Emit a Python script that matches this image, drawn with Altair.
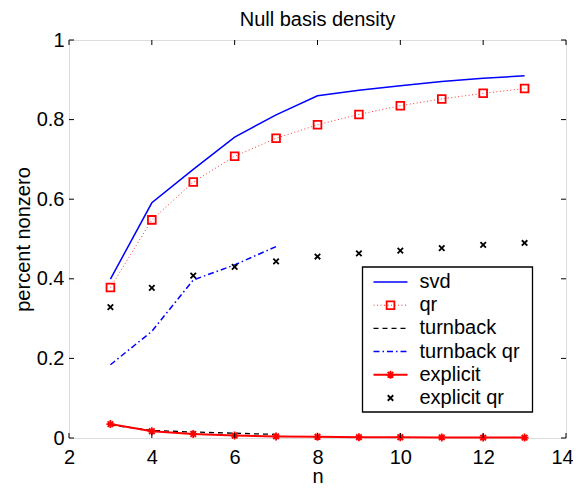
import altair as alt
import pandas as pd

# ---------------- data ----------------
n = [3, 4, 5, 6, 7, 8, 9, 10, 11, 12, 13]
svd = [0.399, 0.591, 0.675, 0.756, 0.812, 0.860, 0.874, 0.885, 0.896, 0.904, 0.910]
qr = [0.378, 0.548, 0.643, 0.708, 0.753, 0.787, 0.813, 0.835, 0.852, 0.866, 0.878]
n_short = [3, 4, 5, 6, 7]
turnback = [0.033, 0.019, 0.015, 0.012, 0.009]
turnback_qr = [0.184, 0.268, 0.397, 0.435, 0.481]
explicit = [0.035, 0.017, 0.010, 0.006, 0.004, 0.003, 0.002, 0.002, 0.0015, 0.001, 0.001]
explicit_qr = [0.329, 0.377, 0.408, 0.430, 0.444, 0.456, 0.464, 0.471, 0.477, 0.485, 0.490]

x_ticks = [2, 4, 6, 8, 10, 12, 14]
y_ticks = [0, 0.2, 0.4, 0.6, 0.8, 1]

legend_labels = ["svd", "qr", "turnback", "turnback qr", "explicit", "explicit qr"]
title_text = ["Null basis density"]

# ---------------- layout ----------------
W, H = 497, 398
FONT = "Liberation Sans"
FS = 20
BLUE = "#0000ff"
RED = "#ff0000"
BLACK = "#000000"

ASTERISK = "M-1,0L1,0M0,-1L0,1M-0.7,-0.7L0.7,0.7M-0.7,0.7L0.7,-0.7"
XMARK = "M-1,-1L1,1M-1,1L1,-1"

xs = alt.Scale(domain=[2, 14], nice=False, zero=False)
ys = alt.Scale(domain=[0, 1], nice=False)

xaxis = alt.Axis(values=x_ticks, ticks=False, grid=False, domain=False,
                 labelFont=FONT, labelFontSize=FS, labelColor=BLACK, labelPadding=9,
                 labelOffset={"condition": {"test": "datum.value == 14", "value": -4}, "value": 0},
                 titleFont=FONT, titleFontSize=FS, titleFontWeight="normal", titleColor=BLACK,
                 titlePadding=-1, labelFlush=False, labelOverlap=False)
yaxis = alt.Axis(values=y_ticks, ticks=False, grid=False, domain=False, format="~g",
                 labelFont=FONT, labelFontSize=FS, labelColor=BLACK, labelPadding=5,
                 titleFont=FONT, titleFontSize=FS, titleFontWeight="normal", titleColor=BLACK,
                 titlePadding=3, labelFlush=False, labelOverlap=False)


def X(field="n"):
    return alt.X(f"{field}:Q", scale=xs, axis=xaxis, title="n")


def Y(field="v"):
    return alt.Y(f"{field}:Q", scale=ys, axis=yaxis, title="percent nonzero")


def df(xv, yv):
    return pd.DataFrame({"n": xv, "v": yv})


layers = []

# svd
layers.append(alt.Chart(df(n, svd)).mark_line(color=BLUE, strokeWidth=1.5).encode(x=X(), y=Y()))
# qr
layers.append(alt.Chart(df(n, qr)).mark_line(color=RED, strokeWidth=1, strokeDash=[1, 2.5], opacity=0.8)
              .encode(x=X(), y=Y()))
layers.append(alt.Chart(df(n, qr)).mark_point(shape="square", filled=False, color=RED, strokeWidth=1.8,
                                              size=60, opacity=1).encode(x=X(), y=Y()))
# turnback
layers.append(alt.Chart(df(n_short, turnback)).mark_line(color=BLACK, strokeWidth=1.3, strokeDash=[5, 4])
              .encode(x=X(), y=Y()))
# turnback qr
layers.append(alt.Chart(df(n_short, turnback_qr)).mark_line(color=BLUE, strokeWidth=1.5,
                                                            strokeDash=[6, 3, 1.5, 3])
              .encode(x=X(), y=Y()))
# explicit
layers.append(alt.Chart(df(n, explicit)).mark_line(color=RED, strokeWidth=2).encode(x=X(), y=Y()))
layers.append(alt.Chart(df(n, explicit)).mark_point(shape=ASTERISK, filled=False, color=RED, strokeWidth=1.8,
                                                    size=64, opacity=1).encode(x=X(), y=Y()))
# explicit qr
layers.append(alt.Chart(df(n, explicit_qr)).mark_point(shape=XMARK, filled=False, color=BLACK, strokeWidth=1.8,
                                                       size=30, opacity=1).encode(x=X(), y=Y()))

# inward ticks (MATLAB style) on all four sides
tx = pd.DataFrame({"n": x_ticks})
ty = pd.DataFrame({"v": y_ticks})
layers.append(alt.Chart(tx).mark_rule(color=BLACK, strokeWidth=1)
              .encode(x=X(), y=alt.value(H), y2=alt.value(H - 5)))
layers.append(alt.Chart(tx).mark_rule(color=BLACK, strokeWidth=1)
              .encode(x=X(), y=alt.value(0), y2=alt.value(5)))
layers.append(alt.Chart(ty).mark_rule(color=BLACK, strokeWidth=1)
              .encode(y=Y(), x=alt.value(0), x2=alt.value(5)))
layers.append(alt.Chart(ty).mark_rule(color=BLACK, strokeWidth=1)
              .encode(y=Y(), x=alt.value(W), x2=alt.value(W - 5)))

# ---------------- title ----------------
layers.append(alt.Chart(pd.DataFrame({"t": title_text}))
              .mark_text(align="center", baseline="alphabetic", font=FONT, fontSize=FS, color=BLACK)
              .encode(x=alt.value(W / 2), y=alt.value(-14), text="t:N"))

# ---------------- legend (drawn manually, MATLAB style) ----------------
LX0, LX1, LY0, LY1 = 293.5, 463.5, 227, 372
row_y = [LY0 + 15 + i * 23.2 for i in range(len(legend_labels))]
seg0, seg1, segm, txt_x = 304.5, 338.5, 321.5, 350.5

leg_box = pd.DataFrame({"a": [LX0], "b": [LX1], "c": [LY0], "d": [LY1]})
layers.append(alt.Chart(leg_box).mark_rect(fill="white", stroke=BLACK, strokeWidth=1.3)
              .encode(x=alt.X("a:Q", scale=None, axis=None), x2="b:Q",
                      y=alt.Y("c:Q", scale=None, axis=None), y2="d:Q"))


def seg(i, **kw):
    d = pd.DataFrame({"a": [seg0], "b": [seg1], "c": [row_y[i]]})
    return (alt.Chart(d).mark_rule(**kw)
            .encode(x=alt.X("a:Q", scale=None, axis=None), x2="b:Q",
                    y=alt.Y("c:Q", scale=None, axis=None)))


def mk(i, **kw):
    d = pd.DataFrame({"a": [segm], "c": [row_y[i]]})
    return (alt.Chart(d).mark_point(**kw)
            .encode(x=alt.X("a:Q", scale=None, axis=None),
                    y=alt.Y("c:Q", scale=None, axis=None)))


layers.append(seg(0, color=BLUE, strokeWidth=1.5))
layers.append(seg(1, color=RED, strokeWidth=1, strokeDash=[1, 2.5], opacity=0.8))
layers.append(mk(1, shape="square", filled=False, color=RED, strokeWidth=1.8, size=60, opacity=1))
layers.append(seg(2, color=BLACK, strokeWidth=1.3, strokeDash=[5, 4]))
layers.append(seg(3, color=BLUE, strokeWidth=1.5, strokeDash=[6, 3, 1.5, 3]))
layers.append(seg(4, color=RED, strokeWidth=2))
layers.append(mk(4, shape=ASTERISK, filled=False, color=RED, strokeWidth=1.8, size=64, opacity=1))
layers.append(mk(5, shape=XMARK, filled=False, color=BLACK, strokeWidth=1.8, size=30, opacity=1))

leg_txt = pd.DataFrame({"a": [txt_x] * len(legend_labels), "c": row_y, "t": legend_labels})
layers.append(alt.Chart(leg_txt).mark_text(align="left", baseline="middle", font=FONT, fontSize=FS,
                                           color=BLACK)
              .encode(x=alt.X("a:Q", scale=None, axis=None),
                      y=alt.Y("c:Q", scale=None, axis=None), text="t:N"))

chart = (alt.layer(*layers)
         .properties(width=W, height=H,
                     autosize=alt.AutoSizeParams(type="none"),
                     padding={"left": 61, "top": 32, "right": 7, "bottom": 45})
         .configure_view(stroke=BLACK, strokeWidth=1.5)
         .configure(background="white"))

chart.save("out.html", embed_options={"renderer": "svg", "actions": False})
